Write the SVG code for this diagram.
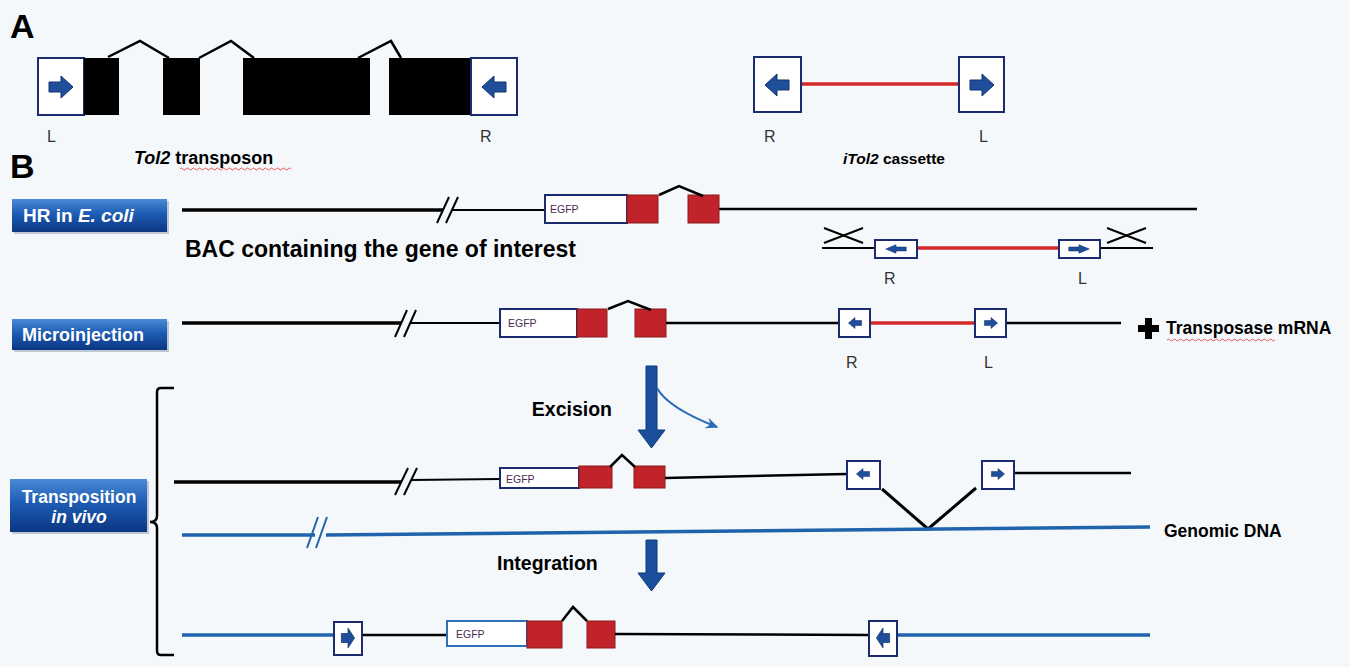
<svg xmlns="http://www.w3.org/2000/svg" xmlns:xlink="http://www.w3.org/1999/xlink" width="1350" height="667" viewBox="0 0 1350 667">
<defs>
<linearGradient id="btn" x1="0" y1="0" x2="0" y2="1">
<stop offset="0" stop-color="#4a8ad6"/>
<stop offset="0.45" stop-color="#1d5cb4"/>
<stop offset="1" stop-color="#0b3682"/>
</linearGradient>
<path id="arr" d="M-12,-5 H0 V-11 L12,0 L0,11 V5 H-12 Z"/>
<marker id="thin" viewBox="0 0 10 10" refX="8" refY="5" markerWidth="7" markerHeight="7" orient="auto">
<path d="M0,1 L9,5 L0,9 L3,5 Z" fill="#2a6db5"/>
</marker>
<style>
.t{font-family:"Liberation Sans",Arial,sans-serif}
.b{font-weight:bold}
.lbl{font-family:"Liberation Sans",Arial,sans-serif;font-size:16px;fill:#333}
.tbox{fill:#fff;stroke:#1c2a6e;stroke-width:2}
.egfp{fill:#fff;stroke:#1c2a6e;stroke-width:2}
.exon{fill:#c1232b;stroke:#8a1a1a;stroke-width:1}
.blk{fill:#000}
.ar{fill:#1f4f9a;stroke:#15306e;stroke-width:1}
.ln{stroke:#000;fill:none;stroke-linecap:butt}
.blue{stroke:#1f63ad;fill:none;stroke-width:3.5}
.red{stroke:#d02a2a;stroke-width:3.5}
.intr{stroke:#000;fill:none;stroke-width:2.5;stroke-linejoin:miter}
.bigar{fill:#1b4f9c;stroke:#0d3a7a;stroke-width:1}
.btxt{font-family:"Liberation Sans",Arial,sans-serif;font-weight:bold;fill:#fff}
.eg{font-family:"Liberation Sans",Arial,sans-serif;font-size:10.5px;fill:#4a2a55}
</style>
</defs>
<rect width="1350" height="667" fill="#f5f8fb"/>

<!-- Panel letters -->
<text class="t b" x="10" y="38" font-size="34">A</text>
<text class="t b" x="10" y="178" font-size="34">B</text>

<!-- Tol2 transposon -->
<g id="tol2">
<rect class="tbox" x="38" y="58" width="46" height="57"/>
<use href="#arr" class="ar" transform="translate(61,87)"/>
<rect class="blk" x="84" y="58" width="35" height="57"/>
<rect class="blk" x="163" y="58" width="37" height="57"/>
<rect class="blk" x="243" y="58" width="127" height="57"/>
<rect class="blk" x="389" y="58" width="82" height="57"/>
<rect class="tbox" x="471" y="58" width="46" height="57"/>
<use href="#arr" class="ar" transform="translate(494,87) scale(-1,1)"/>
<polyline class="intr" points="108,57 140,41 169,58"/>
<polyline class="intr" points="199,58 231,41 254,58"/>
<polyline class="intr" points="358,58 391,41 401,58"/>
<text class="lbl" x="47" y="142">L</text>
<text class="lbl" x="480" y="142">R</text>
<text class="t b" x="134" y="164" font-size="18"><tspan font-style="italic">Tol2</tspan> transposon</text>
<path d="M180,169 q1.5,-2 3,0 t3,0 t3,0 t3,0 t3,0 t3,0 t3,0 t3,0 t3,0 t3,0 t3,0 t3,0 t3,0 t3,0 t3,0 t3,0 t3,0 t3,0 t3,0 t3,0 t3,0 t3,0 t3,0 t3,0 t3,0 t3,0 t3,0 t3,0 t3,0 t3,0 t3,0 t3,0 t3,0 t3,0 t3,0 t3,0 t3,0" fill="none" stroke="#e03030" stroke-width="0.8"/>
</g>

<!-- iTol2 cassette -->
<g id="itol2">
<line class="red" x1="801" y1="84" x2="959" y2="84"/>
<rect class="tbox" x="754" y="57" width="47" height="55"/>
<use href="#arr" class="ar" transform="translate(777,85) scale(-1,1)"/>
<rect class="tbox" x="959" y="57" width="45" height="55"/>
<use href="#arr" class="ar" transform="translate(982,85)"/>
<text class="lbl" x="764" y="142">R</text>
<text class="lbl" x="979" y="142">L</text>
<text class="t b" x="843" y="164" font-size="15.5"><tspan font-style="italic">iTol2</tspan> cassette</text>
</g>

<!-- Label boxes -->
<g id="lab-hr">
<rect x="14" y="201" width="155" height="33" fill="#9aa6b8" opacity="0.6"/>
<rect x="12" y="199" width="155" height="33" fill="url(#btn)"/>
<text class="btxt" x="23" y="222" font-size="19">HR in <tspan font-style="italic">E. coli</tspan></text>
</g>
<g id="lab-micro">
<rect x="14" y="321" width="155" height="31" fill="#9aa6b8" opacity="0.6"/>
<rect x="12" y="319" width="155" height="31" fill="url(#btn)"/>
<text class="btxt" x="22" y="341" font-size="18">Microinjection</text>
</g>
<g id="lab-trans">
<rect x="12" y="481" width="137" height="53" fill="#9aa6b8" opacity="0.6"/>
<rect x="10" y="479" width="137" height="53" fill="url(#btn)"/>
<text class="btxt" x="79" y="503" font-size="17.5" text-anchor="middle">Transposition</text>
<text class="btxt" x="79" y="523" font-size="17.5" text-anchor="middle" font-style="italic" font-weight="normal">in vivo</text>
</g>

<!-- Row 1: HR in E. coli -->
<g id="row1">
<line class="ln" x1="182" y1="210" x2="443" y2="210" stroke-width="3.5"/>
<line class="ln" x1="452" y1="210" x2="545" y2="210" stroke-width="2"/>
<line class="ln" x1="437" y1="223" x2="449" y2="197" stroke-width="2"/>
<line class="ln" x1="446" y1="223" x2="458" y2="197" stroke-width="2"/>
<line class="ln" x1="719" y1="209" x2="1197" y2="209" stroke-width="2.5"/>
<rect class="egfp" x="545" y="195" width="82" height="28"/>
<text class="eg" x="550" y="213">EGFP</text>
<rect class="exon" x="627" y="195" width="31" height="28"/>
<rect class="exon" x="688" y="195" width="31" height="28"/>
<polyline class="intr" points="659,195 679,186 703,196"/>
<text class="t b" x="185" y="257" font-size="23">BAC containing the gene of interest</text>
</g>

<!-- Row 1 sub: cassette with homology arms -->
<g id="row1-cassette">
<line class="ln" x1="822" y1="248" x2="875" y2="248" stroke-width="2"/>
<line class="ln" x1="1100" y1="248" x2="1153" y2="248" stroke-width="2"/>
<line class="ln" x1="824" y1="228" x2="863" y2="243" stroke-width="2"/>
<line class="ln" x1="824" y1="243" x2="863" y2="228" stroke-width="2"/>
<line class="ln" x1="1107" y1="243" x2="1146" y2="228" stroke-width="2"/>
<line class="ln" x1="1107" y1="228" x2="1146" y2="243" stroke-width="2"/>
<line class="red" x1="917" y1="248" x2="1059" y2="248"/>
<rect class="tbox" x="875" y="240" width="42" height="18"/>
<use href="#arr" class="ar" transform="translate(896,249) scale(-0.85,0.38)"/>
<rect class="tbox" x="1059" y="240" width="41" height="18"/>
<use href="#arr" class="ar" transform="translate(1079,249) scale(0.85,0.38)"/>
<text class="lbl" x="884" y="284">R</text>
<text class="lbl" x="1078" y="284">L</text>
</g>

<!-- Row 2: Microinjection -->
<g id="row2">
<line class="ln" x1="182" y1="323" x2="401" y2="323" stroke-width="3.5"/>
<line class="ln" x1="410" y1="323" x2="500" y2="323" stroke-width="2"/>
<line class="ln" x1="395" y1="337" x2="407" y2="310" stroke-width="2"/>
<line class="ln" x1="404" y1="337" x2="416" y2="310" stroke-width="2"/>
<rect class="egfp" x="500" y="309" width="77" height="28"/>
<text class="eg" x="508" y="327">EGFP</text>
<rect class="exon" x="577" y="309" width="30" height="28"/>
<rect class="exon" x="635" y="309" width="31" height="28"/>
<polyline class="intr" points="608,309 628,301 651,310"/>
<line class="ln" x1="666" y1="323" x2="839" y2="323" stroke-width="2.5"/>
<line class="red" x1="870" y1="323" x2="975" y2="323"/>
<line class="ln" x1="1006" y1="323" x2="1121" y2="323" stroke-width="2.5"/>
<rect class="tbox" x="839" y="309" width="31" height="28"/>
<use href="#arr" class="ar" transform="translate(855,323) scale(-0.55,0.5)"/>
<rect class="tbox" x="975" y="309" width="31" height="28"/>
<use href="#arr" class="ar" transform="translate(991,323) scale(0.55,0.5)"/>
<text class="lbl" x="846" y="368">R</text>
<text class="lbl" x="984" y="368">L</text>
<path d="M1145,318 h7 v7 h7 v7 h-7 v7 h-7 v-7 h-7 v-7 h7 Z" fill="#000"/>
<text class="t b" x="1166" y="334" font-size="17.5">Transposase mRNA</text>
<path d="M1167,340 q1.5,-2 3,0 t3,0 t3,0 t3,0 t3,0 t3,0 t3,0 t3,0 t3,0 t3,0 t3,0 t3,0 t3,0 t3,0 t3,0 t3,0 t3,0 t3,0 t3,0 t3,0 t3,0 t3,0 t3,0 t3,0 t3,0 t3,0 t3,0 t3,0 t3,0 t3,0 t3,0 t3,0 t3,0 t3,0 t3,0 t3,0" fill="none" stroke="#e03030" stroke-width="0.8"/>
</g>

<!-- Excision arrows -->
<g id="excision">
<path class="bigar" d="M646,366 H657 V430 H665 L651.5,448 L638,430 H646 Z"/>
<path d="M657,388 Q668,408 717,427" fill="none" stroke="#2a6db5" stroke-width="2" marker-end="url(#thin)"/>
<text class="t b" x="612" y="416" font-size="19.5" text-anchor="end">Excision</text>
</g>

<!-- Row 3: excised donor -->
<g id="row3">
<line class="ln" x1="174" y1="482" x2="401" y2="482" stroke-width="3.5"/>
<line class="ln" x1="411" y1="480" x2="500" y2="479" stroke-width="2"/>
<line class="ln" x1="395" y1="495" x2="408" y2="468" stroke-width="2"/>
<line class="ln" x1="404" y1="495" x2="417" y2="468" stroke-width="2"/>
<rect class="egfp" x="500" y="468" width="79" height="20"/>
<text class="eg" x="506" y="483">EGFP</text>
<rect class="exon" x="579" y="466" width="33" height="22"/>
<rect class="exon" x="634" y="466" width="31" height="22"/>
<polyline class="intr" points="610,467 622,455 635,467"/>
<line class="ln" x1="665" y1="478" x2="847" y2="474" stroke-width="2.5"/>
<line class="ln" x1="1014" y1="473" x2="1131" y2="473" stroke-width="2.5"/>
<rect class="tbox" x="847" y="461" width="33" height="28"/>
<use href="#arr" class="ar" transform="translate(863,474) scale(-0.55,0.5)"/>
<rect class="tbox" x="982" y="461" width="32" height="28"/>
<use href="#arr" class="ar" transform="translate(998,474) scale(0.55,0.5)"/>
<polyline points="882,489 928,529 976,488" fill="none" stroke="#000" stroke-width="3"/>
</g>

<!-- Genomic DNA -->
<g id="genomic">
<line class="blue" x1="182" y1="535" x2="315" y2="535"/>
<path class="blue" d="M326,535 L1150,527"/>
<line x1="307" y1="548" x2="318" y2="517" stroke="#1f63ad" stroke-width="2"/>
<line x1="316" y1="548" x2="327" y2="517" stroke="#1f63ad" stroke-width="2"/>
<text class="t b" x="1164" y="537" font-size="17.5">Genomic DNA</text>
</g>

<!-- Integration -->
<g id="integration">
<path class="bigar" d="M646,540 H657 V573 H665 L651.5,591 L638,573 H646 Z"/>
<text class="t b" x="497" y="570" font-size="19.5">Integration</text>
</g>

<!-- Row 4: integrated -->
<g id="row4">
<line class="blue" x1="182" y1="635" x2="334" y2="635"/>
<line class="ln" x1="362" y1="635" x2="447" y2="635" stroke-width="2.5"/>
<rect x="447" y="621" width="80" height="25" fill="#fff" stroke="#2f6fb8" stroke-width="2"/>
<text class="eg" x="456" y="638">EGFP</text>
<rect class="exon" x="527" y="621" width="35" height="27"/>
<rect class="exon" x="587" y="621" width="28" height="27"/>
<polyline class="intr" points="562,621 573,607 587,621"/>
<line class="ln" x1="615" y1="634" x2="869" y2="635" stroke-width="2.5"/>
<line class="blue" x1="897" y1="635" x2="1150" y2="635"/>
<rect class="tbox" x="334" y="622" width="28" height="33"/>
<use href="#arr" class="ar" transform="translate(348,638) scale(0.55,0.9)"/>
<rect class="tbox" x="869" y="621" width="28" height="35"/>
<use href="#arr" class="ar" transform="translate(883,638) scale(-0.55,0.9)"/>
</g>

<!-- Bracket -->
<g id="bracket">
<path d="M174,388 H161 Q157,388 157,392 V516 Q157,522 150,522 Q157,522 157,528 V651 Q157,655 161,655 H174" fill="none" stroke="#000" stroke-width="2.5"/>
</g>
</svg>
